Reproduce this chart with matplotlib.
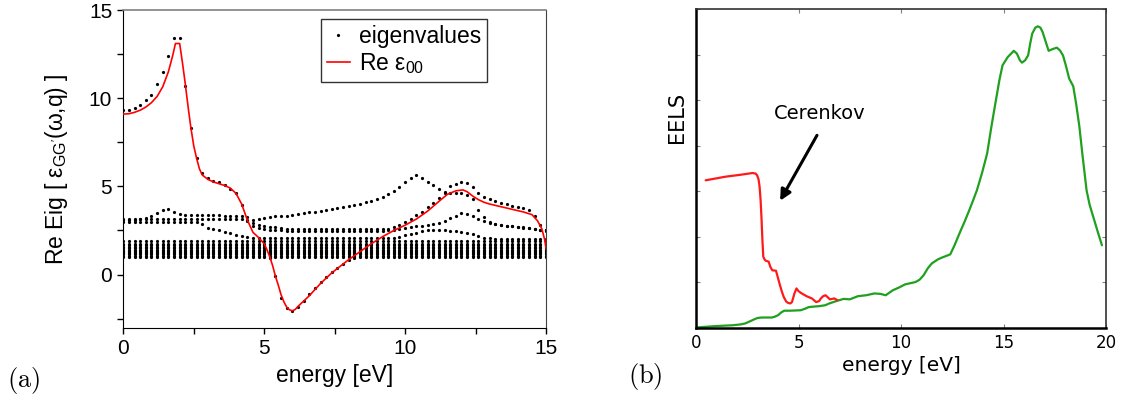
import numpy as np
import matplotlib
matplotlib.use("Agg")
import matplotlib.pyplot as plt
from matplotlib.ticker import MultipleLocator
from matplotlib.lines import Line2D

# ---- panel (a): eigenvalues of the dielectric matrix ----
energy = np.round(np.arange(0, 15.01, 0.2), 1)   # sampling grid of the eigenvalues

eig_top = [9.33, 9.33, 9.43, 9.6, 9.87, 10.2, 10.8, 11.5, 12.4, 13.4,
           13.4, 10.7, 8.3, 6.6, 5.74, 5.45, 5.3, 5.23, 5.1, 4.88,
           4.6, 3.97, 3.27, 3.12, 3.18, 3.22, 3.27, 3.3, 3.32, 3.34,
           3.39, 3.45, 3.48, 3.53, 3.57, 3.63, 3.66, 3.72, 3.77, 3.85,
           3.9, 3.96, 4.03, 4.1, 4.18, 4.26, 4.4, 4.58, 4.75, 4.94,
           5.23, 5.5, 5.62, 5.45, 5.26, 5.07, 4.88, 4.7, 5.02, 5.11,
           5.23, 5.17, 4.95, 4.6, 4.42, 4.3, 4.15, 4.05, 3.98, 3.9,
           3.83, 3.75, 3.67, 3.3, 2.8, 2.5]
eig_2 = [3.1, 3.1, 3.12, 3.15, 3.22, 3.32, 3.5, 3.69, 3.72, 3.55,
         3.42, 3.37, 3.36, 3.36, 3.36, 3.36, 3.36, 3.36, 3.35, 3.35,
         3.33, 3.3, 3.05, 2.9, 2.82, 2.78, 2.72, 2.68, 2.64, 2.6,
         2.58, 2.56, 2.56, 2.56, 2.56, 2.56, 2.56, 2.56, 2.56, 2.56,
         2.56, 2.56, 2.56, 2.56, 2.56, 2.56, 2.56, 2.6, 2.68, 2.8,
         3.0, 3.18, 3.37, 3.56, 3.84, 4.07, 4.35, 4.6, 4.64, 4.6,
         4.6, 4.54, 4.26, 3.69, 3.28, 3.0, 2.85, 2.8, 2.76, 2.73,
         2.7, 2.68, 2.65, 2.6, 2.55, 2.5]
eig_3 = [3.18, 3.18, 3.18, 3.18, 3.18, 3.18, 3.18, 3.18, 3.18, 3.18,
         3.18, 3.18, 3.18, 3.18, 3.18, 3.18, 3.18, 3.18, 3.18, 3.18,
         3.18, 3.18, 3.1, 2.75, 2.66, 2.6, 2.55, 2.52, 2.5, 2.47,
         2.47, 2.47, 2.47, 2.47, 2.47, 2.47, 2.47, 2.47, 2.47, 2.47,
         2.47, 2.47, 2.47, 2.47, 2.47, 2.47, 2.47, 2.5, 2.55, 2.6,
         2.65, 2.7, 2.75, 2.78, 2.82, 2.88, 2.95, 3.05, 3.2, 3.35,
         3.47, 3.42, 3.3, 3.15, 3.05, 2.95, 2.88, 2.82, 2.78, 2.74,
         2.7, 2.67, 2.62, 2.58, 2.5, 2.45]
eig_4 = [3.0, 3.0, 3.0, 3.0, 3.0, 3.0, 3.0, 3.0, 3.0, 3.0,
         3.0, 3.0, 3.0, 3.0, 2.85, 2.67, 2.57, 2.5, 2.42, 2.33,
         2.27, 2.18, 2.12, 2.08, 2.05, 2.05, 2.05, 2.05, 2.05, 2.05,
         2.05, 2.05, 2.05, 2.05, 2.05, 2.05, 2.05, 2.05, 2.05, 2.05,
         2.05, 2.05, 2.05, 2.05, 2.05, 2.05, 2.05, 2.05, 2.1, 2.15,
         2.22, 2.3, 2.38, 2.45, 2.5, 2.52, 2.52, 2.5, 2.47, 2.45,
         2.42, 2.38, 2.3, 2.2, 2.1, 2.05, 2.0, 2.0, 2.0, 2.0,
         2.0, 2.0, 2.0, 2.0, 2.0, 2.0]
# eigenvalue that dives below zero around the plasmon
dip_energy = [5.2, 5.4, 5.6, 5.8, 6.0, 6.2, 6.4, 6.6, 6.8, 7.0, 7.2, 7.4, 7.6, 7.8, 8.0, 8.2]
dip_value = [0.95, -0.1, -1.3, -1.9, -2.05, -1.85, -1.5, -1.12, -0.75, -0.42, -0.13, 0.15, 0.4, 0.62, 0.8, 0.95]
# dense band of nearly constant eigenvalues
band_levels = [1.0, 1.07, 1.14, 1.21, 1.28, 1.35, 1.42, 1.5, 1.58, 1.66, 1.74, 1.93]

eps00_energy = [0.0, 0.2, 0.4, 0.6, 0.8, 1.0, 1.2, 1.4, 1.6, 1.75, 1.85, 2.0, 2.1, 2.2, 2.3,
                2.4, 2.5, 2.6, 2.7, 2.8, 3.0, 3.2, 3.4, 3.6, 3.8, 4.0, 4.2, 4.4, 4.6, 4.8,
                5.0, 5.1, 5.2, 5.3, 5.4, 5.5, 5.6, 5.7, 5.8, 5.9, 6.0, 6.1, 6.2, 6.4, 6.6,
                6.8, 7.0, 7.2, 7.4, 7.6, 7.8, 8.0, 8.4, 8.8, 9.2, 9.6, 10.0, 10.4, 10.8, 11.2,
                11.5, 11.8, 12.05, 12.2, 12.4, 12.6, 12.8, 13.0, 13.4, 13.8, 14.2, 14.5, 14.7,
                14.85, 14.95, 15.0]
eps00_value = [9.1, 9.12, 9.2, 9.32, 9.5, 9.75, 10.1, 10.65, 11.5, 12.4, 13.1, 13.1, 12.0, 10.8, 9.5,
               8.3, 7.3, 6.6, 6.0, 5.65, 5.4, 5.25, 5.15, 5.05, 4.9, 4.6, 4.0, 3.1, 2.4, 2.1,
               1.75, 1.4, 1.0, 0.5, -0.1, -0.6, -1.15, -1.55, -1.85, -2.0, -2.05, -1.98, -1.8, -1.5, -1.2,
               -0.85, -0.5, -0.2, 0.1, 0.35, 0.6, 0.85, 1.3, 1.75, 2.15, 2.5, 2.8, 3.15, 3.6, 4.15,
               4.55, 4.75, 4.8, 4.7, 4.45, 4.25, 4.1, 4.0, 3.85, 3.7, 3.55, 3.4, 3.05,
               2.6, 2.0, 1.5]

# ---- panel (b): EELS ----
eels_energy = [0.0, 0.9, 1.8, 2.2, 2.4, 2.6, 2.84, 3.0, 3.2, 3.5, 3.7, 3.85, 4.0, 4.15, 4.3,
               4.6, 5.1, 5.3, 5.5, 6.0, 6.3, 6.5, 6.9, 7.2, 7.5, 7.9, 8.3, 8.7, 9.0, 9.25,
               9.6, 9.9, 10.2, 10.7, 10.9, 11.1, 11.3, 11.5, 11.8, 12.0, 12.4, 12.6, 12.85,
               13.1, 13.3, 13.5, 13.7, 13.95, 14.2, 14.4, 14.6, 14.8, 14.95, 15.2, 15.5,
               15.65, 15.8, 15.9, 16.05, 16.2, 16.3, 16.4, 16.55, 16.67, 16.8, 16.9, 17.05,
               17.2, 17.4, 17.6, 17.75, 17.9, 18.05, 18.2, 18.4, 18.55, 18.7, 18.85, 19.05,
               19.2, 19.4, 19.6, 19.8]
eels_value = [0.0, 0.03, 0.05, 0.07, 0.09, 0.13, 0.18, 0.21, 0.22, 0.22, 0.22, 0.24, 0.27, 0.33, 0.37,
              0.37, 0.38, 0.41, 0.45, 0.47, 0.49, 0.53, 0.59, 0.63, 0.62, 0.69, 0.71, 0.75, 0.74, 0.71,
              0.82, 0.88, 0.95, 1.0, 1.05, 1.15, 1.3, 1.41, 1.5, 1.54, 1.61, 1.8, 2.07,
              2.33, 2.55, 2.78, 3.02, 3.4, 3.83, 4.4, 4.93, 5.45, 5.77, 5.95, 6.09,
              6.03, 5.88, 5.83, 5.88, 5.99, 6.25, 6.47, 6.6, 6.63, 6.6, 6.51, 6.3,
              6.09, 6.13, 6.16, 6.1, 5.99, 5.75, 5.48, 5.31, 4.9, 4.42, 3.8, 3.02,
              2.7, 2.4, 2.1, 1.81]
cerenkov_energy = [0.47, 1.44, 2.14, 2.6, 2.75, 2.9, 2.98, 3.05, 3.1, 3.15, 3.19, 3.24, 3.28,
                   3.34, 3.4, 3.54, 3.63, 3.72, 3.9, 3.98, 4.07, 4.18, 4.28, 4.4, 4.5, 4.6,
                   4.68, 4.8, 4.9, 5.0, 5.12, 5.39, 5.65, 5.86, 6.0, 6.09, 6.2, 6.32, 6.53,
                   6.74, 6.9]
cerenkov_value = [3.24, 3.32, 3.36, 3.39, 3.4, 3.39, 3.35, 3.26, 3.1, 2.8, 2.44, 1.9, 1.56,
                  1.5, 1.47, 1.45, 1.33, 1.26, 1.25, 1.12, 0.97, 0.8, 0.67, 0.57, 0.54, 0.53,
                  0.56, 0.75, 0.86, 0.8, 0.76, 0.69, 0.64, 0.56, 0.58, 0.64, 0.69, 0.71, 0.62,
                  0.64, 0.6]


def main():
    fig = plt.figure(figsize=(11.23, 4.07), dpi=100)
    sans = "Liberation Sans"

    # ------------------------------ (a)
    ax = fig.add_axes([0.1098, 0.1953, 0.3764, 0.7801])
    dot = dict(ls="none", marker="o", ms=2.3, mew=0, color="k")
    for row in (eig_top, eig_2, eig_3, eig_4):
        ax.plot(energy, row, **dot)
    for level in band_levels:
        ax.plot(energy, np.full(energy.shape, level), **dot)
    ax.plot(dip_energy, dip_value, **dot)
    ax.plot(eps00_energy, eps00_value, color="#ff0000", lw=1.2, zorder=5)

    ax.set_xlim(0, 15)
    ax.set_ylim(-3, 15)
    ax.xaxis.set_major_locator(MultipleLocator(5))
    ax.xaxis.set_minor_locator(MultipleLocator(2.5))
    ax.yaxis.set_major_locator(MultipleLocator(5))
    ax.yaxis.set_minor_locator(MultipleLocator(2.5))
    ax.tick_params(which="both", direction="out", length=4, width=1,
                   top=False, right=False, labelsize=15, pad=4)
    for lab in ax.get_xticklabels() + ax.get_yticklabels():
        lab.set_fontfamily(sans)
    ax.spines["top"].set_color("0.5")
    ax.spines["top"].set_linewidth(1.2)
    ax.spines["right"].set_color("0.25")

    ax.set_xlabel("energy [eV]", fontsize=16.5, family=sans)
    ax.xaxis.set_label_coords(0.5, -0.115)
    ax.set_ylabel(r"Re Eig [ $\mathregular{ε_{GG'}(ω{,}q)}$ ]", fontsize=16.5, family=sans)
    ax.yaxis.set_label_coords(-0.125, 0.5)

    handles = [Line2D([], [], ls="none", marker="o", ms=2.3, mew=0, color="k"),
               Line2D([], [], color="#ff0000", lw=1.2)]
    leg = ax.legend(handles, ["eigenvalues", r"Re $\mathregular{ε_{00}}$"],
                    loc="upper right", bbox_to_anchor=(0.86, 0.972),
                    prop={"family": sans, "size": 16.5}, frameon=True, fancybox=False,
                    handlelength=1.0, handletextpad=0.4, borderpad=0.25,
                    labelspacing=0.15, borderaxespad=0)
    leg.get_frame().set_edgecolor("k")
    leg.get_frame().set_linewidth(1.0)

    # ------------------------------ (b)
    bx = fig.add_axes([0.6198, 0.1953, 0.3651, 0.7814])
    line_kw = dict(lw=1.6, solid_joinstyle="round", solid_capstyle="round")
    bx.plot(eels_energy, eels_value, color="#1fa01f", **line_kw)
    bx.plot(cerenkov_energy, cerenkov_value, color="#ff1a1a", **line_kw)
    bx.set_xlim(0, 20)
    bx.set_ylim(0, 7)
    bx.xaxis.set_major_locator(MultipleLocator(5))
    bx.yaxis.set_major_locator(MultipleLocator(1))
    bx.tick_params(direction="in", length=3, width=0.8, top=True, right=True,
                   labelleft=False, labelsize=12, pad=5, color="0.5")
    for side in ("left", "bottom"):
        bx.spines[side].set_linewidth(1.8)
        bx.spines[side].set_color("k")
    for side in ("top", "right"):
        bx.spines[side].set_linewidth(1.2)
        bx.spines[side].set_color("0.2")
    bx.set_xlabel("energy [eV]", fontsize=14.5)
    bx.xaxis.set_label_coords(0.5, -0.09)
    bx.set_ylabel("EELS", fontsize=15)
    bx.yaxis.set_label_coords(-0.022, 0.66)

    bx.annotate("", xy=(4.1, 2.79), xytext=(5.9, 4.23),
                arrowprops=dict(arrowstyle="-|>", color="k", lw=2.2,
                                mutation_scale=16, shrinkA=0, shrinkB=0))
    bx.text(3.8, 4.71, "Cerenkov", fontsize=14, va="center", ha="left")

    # panel letters
    fig.text(0.006, 0.048, r"$\mathrm{(a)}$", fontsize=19, math_fontfamily="cm")
    fig.text(0.559, 0.058, r"$\mathrm{(b)}$", fontsize=19, math_fontfamily="cm")

    fig.savefig("out.png", dpi=100)


if __name__ == '__main__':
    main()
